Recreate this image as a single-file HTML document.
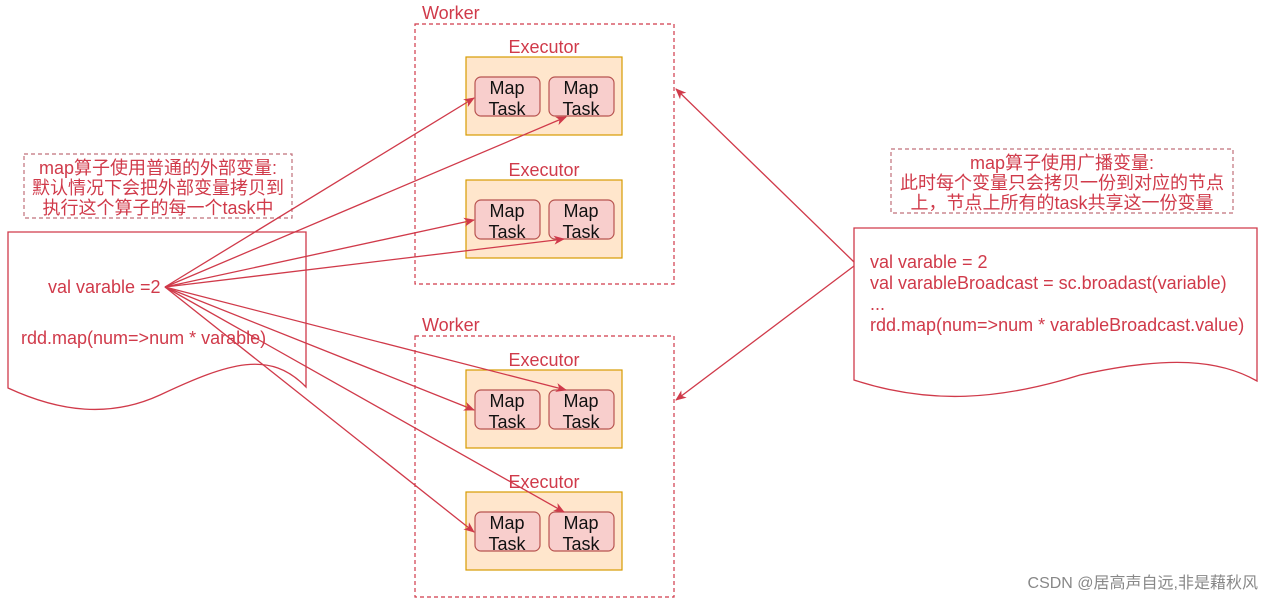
<!DOCTYPE html>
<html><head><meta charset="utf-8"><style>
body{margin:0;width:1265px;height:604px;background:#fff;overflow:hidden}
svg text{font-family:"Liberation Sans","Noto Sans CJK SC",sans-serif}
</style></head><body>
<svg width="1265" height="604" viewBox="0 0 1265 604">
<defs><marker id="a" markerWidth="11" markerHeight="11" refX="10" refY="5.5" orient="auto" markerUnits="userSpaceOnUse"><path d="M0,1 L11,5.5 L0,10 L3,5.5z" fill="#d03a4a"/></marker></defs>
<g fill="none" stroke="#d03a4a" stroke-dasharray="4,3" stroke-width="1.2">
<rect x="415" y="24" width="259" height="260"/>
<rect x="415" y="336" width="259" height="261"/>
<rect x="24" y="154" width="268" height="64" stroke="#c0707a"/>
<rect x="891" y="149" width="342" height="64" stroke="#c0707a"/>
</g>
<g fill="#ffe6cc" stroke="#d79b00" stroke-width="1.2">
<rect x="466" y="57" width="156" height="78"/>
<rect x="466" y="180" width="156" height="78"/>
<rect x="466" y="370" width="156" height="78"/>
<rect x="466" y="492" width="156" height="78"/>
</g>
<g fill="#f8cecc" stroke="#b85450" stroke-width="1.2">
<rect x="475" y="77" width="65" height="39" rx="6"/><rect x="549" y="77" width="65" height="39" rx="6"/>
<rect x="475" y="200" width="65" height="39" rx="6"/><rect x="549" y="200" width="65" height="39" rx="6"/>
<rect x="475" y="390" width="65" height="39" rx="6"/><rect x="549" y="390" width="65" height="39" rx="6"/>
<rect x="475" y="512" width="65" height="39" rx="6"/><rect x="549" y="512" width="65" height="39" rx="6"/>
</g>
<g font-size="18" fill="#111" text-anchor="middle">
<text x="507" y="94">Map</text><text x="507" y="115">Task</text><text x="581" y="94">Map</text><text x="581" y="115">Task</text>
<text x="507" y="217">Map</text><text x="507" y="238">Task</text><text x="581" y="217">Map</text><text x="581" y="238">Task</text>
<text x="507" y="407">Map</text><text x="507" y="428">Task</text><text x="581" y="407">Map</text><text x="581" y="428">Task</text>
<text x="507" y="529">Map</text><text x="507" y="550">Task</text><text x="581" y="529">Map</text><text x="581" y="550">Task</text>
</g>
<g font-size="18" fill="#d03a4a">
<text x="422" y="19">Worker</text><text x="422" y="331">Worker</text>
<g text-anchor="middle"><text x="544" y="53">Executor</text><text x="544" y="176">Executor</text><text x="544" y="366">Executor</text><text x="544" y="488">Executor</text></g>
</g>
<g fill="none" stroke="#d03a4a" stroke-width="1.3">
<path d="M8,232 H306 V387 C270,350 230,362 160,395 C110,418 60,412 8,388 Z"/>
<path d="M854,228 H1257 V381 C1220,360 1170,355 1080,375 C1000,400 930,405 854,380 Z"/>
</g>
<g font-size="18" fill="#d03a4a">
<text x="48" y="293">val varable =2</text>
<text x="21" y="344">rdd.map(num=&gt;num * varable)</text>
<text x="870" y="268">val varable = 2</text>
<text x="870" y="289">val varableBroadcast = sc.broadast(variable)</text>
<text x="870" y="310">...</text>
<text x="870" y="331">rdd.map(num=&gt;num * varableBroadcast.value)</text>
<g text-anchor="middle">
<text x="158" y="174">map算子使用普通的外部变量:</text>
<text x="158" y="194">默认情况下会把外部变量拷贝到</text>
<text x="158" y="214">执行这个算子的每一个task中</text>
<text x="1062" y="169">map算子使用广播变量:</text>
<text x="1062" y="189">此时每个变量只会拷贝一份到对应的节点</text>
<text x="1062" y="209">上，节点上所有的task共享这一份变量</text>
</g></g>
<g stroke="#d03a4a" stroke-width="1.3" marker-end="url(#a)">
<line x1="165" y1="287" x2="474" y2="98"/><line x1="165" y1="287" x2="566" y2="117"/>
<line x1="165" y1="287" x2="474" y2="220"/><line x1="165" y1="287" x2="564" y2="239"/>
<line x1="165" y1="287" x2="566" y2="390"/><line x1="165" y1="287" x2="474" y2="410"/>
<line x1="165" y1="287" x2="564" y2="512"/><line x1="165" y1="287" x2="474" y2="532"/>
<line x1="854" y1="262" x2="676" y2="89"/><line x1="854" y1="266" x2="676" y2="400"/>
</g>
<text x="1258" y="588" font-size="16" fill="#888" text-anchor="end">CSDN @居高声自远,非是藉秋风</text>
</svg>
</body></html>
